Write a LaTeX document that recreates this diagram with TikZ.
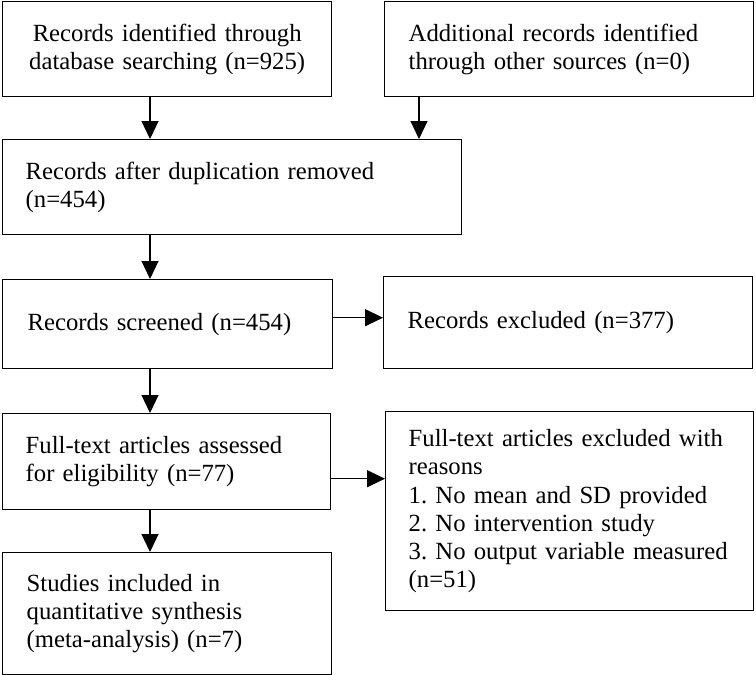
\documentclass[tikz,border=0pt]{standalone}
\usepackage{fontspec}
\setmainfont{Liberation Serif}
\usetikzlibrary{arrows.meta}
\frenchspacing

\tikzset{
    box/.style={draw, line width=1.4pt, anchor=north west, inner xsep=24pt, inner ysep=0pt,
                align=left, font=\fontsize{24.7}{28.2}\selectfont},
    arr/.style={line width=1.2pt, -{Triangle[length=18pt,width=17pt]}}
}

\begin{document}
\begin{tikzpicture}[x=1pt, y=-1pt]
    \useasboundingbox (0, 0) rectangle (756, 675);

    \coordinate (spine) at (150, 0);
    \coordinate (side) at (419, 0);

    \node[box, align=center, text width=281pt, minimum height=95pt] (ident) at (2, 1)
        {Records identified through\\database searching (n=925)};
    \node[box, text width=321pt, minimum height=95pt] (other) at (384, 1)
        {Additional records identified\\through other sources (n=0)};
    \node[box, inner xsep=23pt, text width=413pt, minimum height=95pt] (dedup) at (2, 139)
        {Records after duplication removed\\(n=454)};
    \node[box, inner xsep=25pt, text width=280pt, minimum height=89pt] (screen) at (2, 279)
        {Records screened (n=454)};
    \node[box, text width=321pt, minimum height=92pt] (excl) at (383, 276)
        {Records excluded (n=377)};
    \node[box, inner xsep=23pt, text width=282pt, minimum height=96pt] (full) at (2, 413)
        {Full-text articles assessed\\for eligibility (n=77)};
    % wider text block, text pushed in by leftskip
    \node[box, inner xsep=8pt, text width=352pt, minimum height=199pt] (reasons) at (385, 411)
        {\leftskip=15pt Full-text articles excluded with\\reasons\\1. No mean and SD provided\\2. No intervention study\\3. No output variable measured\\(n=51)\par};
    \node[box, text width=281pt, minimum height=122pt] (incl) at (2, 552)
        {Studies included in\\quantitative synthesis\\(meta-analysis) (n=7)};

    \draw[arr] (ident.south -| spine) -- (dedup.north -| spine);
    \draw[arr] (other.south -| side) -- (dedup.north -| side);
    \draw[arr] (dedup.south -| spine) -- (screen.north -| spine);
    \draw[arr] ([yshift=6.5pt]screen.east) -- ([yshift=6.5pt]screen.east -| excl.west);
    \draw[arr] (screen.south -| spine) -- (full.north -| spine);
    \draw[arr] ([yshift=-17pt]full.east) -- ([yshift=-17pt]full.east -| reasons.west);
    \draw[arr] (full.south -| spine) -- (incl.north -| spine);
\end{tikzpicture}
\end{document}
